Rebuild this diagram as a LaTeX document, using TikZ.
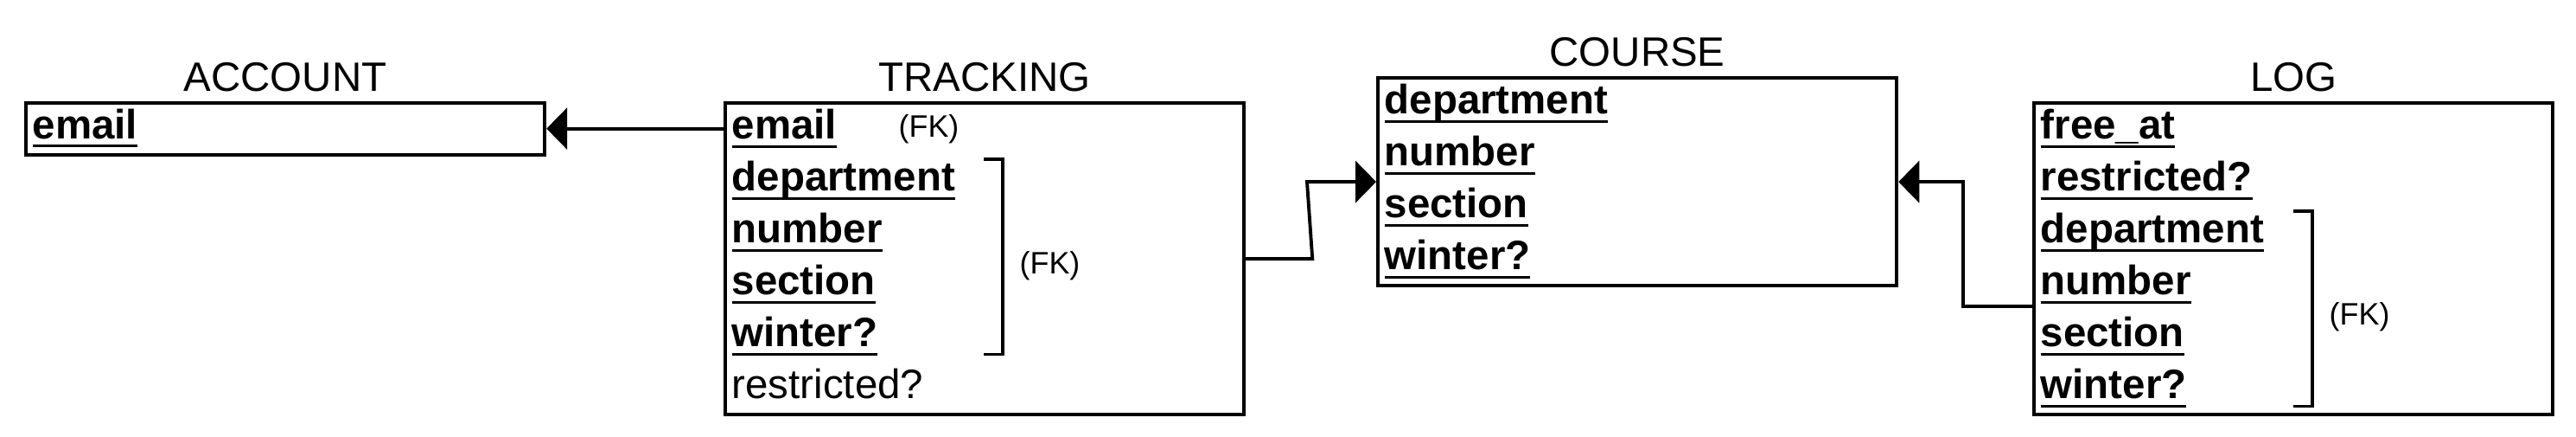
\documentclass[tikz,border=0pt]{standalone}
\usepackage{fontspec}
\setmainfont{Liberation Sans}
\usetikzlibrary{arrows.meta}
\usetikzlibrary{positioning}
\usetikzlibrary{calc}
\newcommand{\key}[1]{\setbox0=\hbox{\bfseries #1}\rlap{\rule[-0.10cm]{\wd0}{0.03cm}}\box0}

\tikzset{
table/.style={draw, line width=1.2pt, minimum width=6cm, inner sep=0pt, anchor=north west},
field/.style={inner sep=0pt, text height=0.43cm, text depth=0.17cm, anchor=north west, font=\fontsize{13.5pt}{16pt}\selectfont},
title/.style={inner sep=0pt, outer sep=0pt, font=\fontsize{13.5pt}{16pt}\selectfont},
fk/.style={inner sep=0pt, anchor=west, font=\fontsize{10.2pt}{12pt}\selectfont},
bracket/.style={line width=0.9pt},
link/.style={line width=1.1pt, -{Triangle[length=0.24cm,width=0.48cm]}}
}

\begin{document}
\begin{tikzpicture}
\useasboundingbox (0,0) rectangle (29.8,-5.04);

%tables
\node[table, minimum height=0.6cm] (account) at (0.28,-1.165) {};
\node[table, minimum height=3.6cm] (tracking) at (8.37,-1.17) {};
\node[table, minimum height=2.4cm] (course) at (15.92,-0.88) {};
\node[table, minimum height=3.6cm] (log) at (23.51,-1.17) {};

\foreach \x/\y in {account/ACCOUNT, tracking/TRACKING, course/COURSE, log/LOG}
	\node[title, above=0.11cm of \x] (\x-title) {\y};

%one node per row, 0.6cm apart
\foreach \f [count=\i from 0] in {\key{email}}
	\node[field] (a\i) at ([shift={(0.09,-0.6*\i)}]account.north west) {\f};
\foreach \f [count=\i from 0] in {\key{email}, \key{department}, \key{number}, \key{section}, \key{winter?}, restricted?}
	\node[field] (t\i) at ([shift={(0.09,-0.6*\i)}]tracking.north west) {\f};
\foreach \f [count=\i from 0] in {\key{department}, \key{number}, \key{section}, \key{winter?}}
	\node[field] (c\i) at ([shift={(0.09,-0.6*\i)}]course.north west) {\f};
\foreach \f [count=\i from 0] in {\key{free\_at}, \key{restricted?}, \key{department}, \key{number}, \key{section}, \key{winter?}}
	\node[field] (l\i) at ([shift={(0.09,-0.6*\i)}]log.north west) {\f};

%foreign keys
\node[fk] (t0-fk) at ($(tracking.west |- t0)+(2.02,-0.02)$) {(FK)};

\coordinate (tb1) at ($(t1.north -| tracking.west)+(3.23,-0.07)$);
\coordinate (tb2) at ($(t4.south -| tracking.west)+(3.23,0.09)$);
\draw[bracket] ([xshift=-0.22cm]tb1) -- (tb1) -- (tb2) -- ([xshift=-0.22cm]tb2);
\node[fk] (t1-fk) at ($(tb1)!0.5!(tb2)+(0.19,-0.1)$) {(FK)};

\coordinate (lb1) at ($(l2.north -| log.west)+(3.24,-0.07)$);
\coordinate (lb2) at ($(l5.south -| log.west)+(3.24,0.09)$);
\draw[bracket] ([xshift=-0.22cm]lb1) -- (lb1) -- (lb2) -- ([xshift=-0.22cm]lb2);
\node[fk] (l2-fk) at ($(lb1)!0.5!(lb2)+(0.19,-0.09)$) {(FK)};

%references
\draw[link] (tracking.west |- account.east) -- (account.east);
\draw[link] (tracking.east) -- ++(0.77,0) -- ([xshift=-0.8cm]course.west) -- (course.west);
\draw[link] ([yshift=0.04cm]log.west |- l3.south) -- ++(-0.8,0) |- (course.east);
\end{tikzpicture}
\end{document}
